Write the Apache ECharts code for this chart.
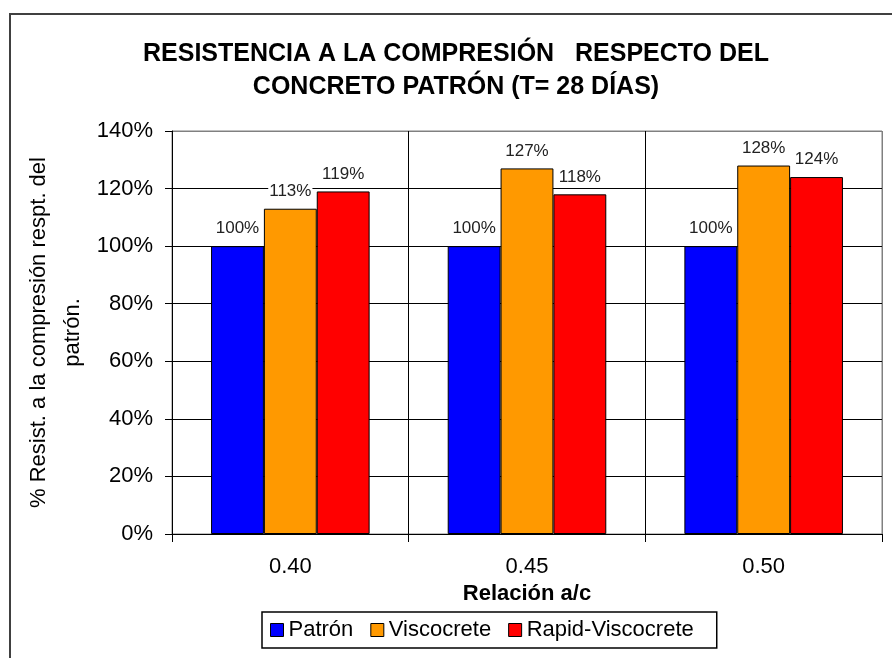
<!DOCTYPE html>
<html>
<head>
<meta charset="utf-8">
<script src="https://cdn.jsdelivr.net/npm/echarts@6/dist/echarts.min.js"></script>
<style>
  html, body { margin: 0; padding: 0; background: #fff; }
  #chart { width: 892px; height: 658px; }
</style>
</head>
<body>
<div id="chart"></div>
<script>
// --- data ---
const categories = ["0.40", "0.45", "0.50"];
const patron = [100, 100, 100];
const viscocrete = [113, 127, 128];
const rapidViscocrete = [119, 118, 124];
const yTicks = { min: 0, max: 140, step: 20 };

const FONT = "'Liberation Sans', Arial, sans-serif";

const chart = echarts.init(document.getElementById("chart"), null, { renderer: "canvas" });

function barSeries(name, data, color) {
  return {
    name,
    type: "bar",
    data,
    barGap: "0%",
    barCategoryGap: "33%",
    itemStyle: { color, borderColor: "#000", borderWidth: 1 },
    label: {
      show: true,
      position: "top",
      distance: 9,
      formatter: "{c}%",
      fontFamily: FONT,
      fontSize: 17,
      color: "#222",
      backgroundColor: "#fff",
      padding: [0, 1],
    },
  };
}

chart.setOption({
  animation: false,
  backgroundColor: "#fff",
  textStyle: { fontFamily: FONT },
  title: {
    text: "RESISTENCIA A LA COMPRESIÓN   RESPECTO DEL\nCONCRETO PATRÓN (T= 28 DÍAS)",
    left: 456,
    top: 38,
    padding: 0,
    textAlign: "center",
    textStyle: { fontFamily: FONT, fontSize: 25, fontWeight: "bold", color: "#000", lineHeight: 33 },
  },
  // outer chart frame (runs off right/bottom like the source)
  graphic: [
    {
      type: "rect",
      shape: { x: 10, y: 14, width: 940, height: 700 },
      style: { fill: null, stroke: "#404040", lineWidth: 2 },
      silent: true,
      z: -1,
    },
  ],
  legend: {
    left: 262,
    top: 612,
    padding: [7, 23, 7, 8],
    itemGap: 17,
    itemWidth: 13,
    itemHeight: 13,
    icon: "rect",
    borderColor: "#000",
    borderWidth: 1.5,
    textStyle: { fontFamily: FONT, fontSize: 22, color: "#000" },
    itemStyle: { borderColor: "#000", borderWidth: 1 },
  },
  grid: {
    left: 172,
    right: 10,
    top: 131,
    bottom: 124,
    show: true,
    borderColor: "#808080",
    borderWidth: 1,
    outerBoundsMode: "none",
  },
  xAxis: {
    type: "category",
    data: categories,
    name: "Relación a/c",
    nameLocation: "middle",
    nameGap: 45,
    nameTextStyle: { fontFamily: FONT, fontSize: 22, fontWeight: "bold", color: "#000" },
    axisLine: { lineStyle: { color: "#000", width: 1 } },
    axisTick: { show: true, length: 8, lineStyle: { color: "#000" } },
    axisLabel: { margin: 22, fontFamily: FONT, fontSize: 22, color: "#000" },
    splitLine: { show: true, lineStyle: { color: ["#000", "#000", "#000", "#808080"], width: 1 } },
  },
  yAxis: {
    type: "value",
    min: yTicks.min,
    max: yTicks.max,
    interval: yTicks.step,
    name: "% Resist. a la compresión respt. del\npatrón.",
    nameLocation: "middle",
    nameGap: 82,
    nameMoveOverlap: false,
    nameTextStyle: { fontFamily: FONT, fontSize: 22, color: "#000", lineHeight: 34 },
    axisLine: { show: true, lineStyle: { color: "#000", width: 1 } },
    axisTick: { show: true, length: 7, lineStyle: { color: "#000" } },
    axisLabel: { margin: 19, fontFamily: FONT, fontSize: 22, color: "#000", formatter: "{value}%" },
    splitLine: {
      show: true,
      lineStyle: { color: ["#000", "#000", "#000", "#000", "#000", "#000", "#000", "#808080"], width: 1 },
    },
  },
  series: [
    barSeries("Patrón", patron, "#0000ff"),
    barSeries("Viscocrete", viscocrete, "#ff9900"),
    barSeries("Rapid-Viscocrete", rapidViscocrete, "#ff0000"),
  ],
});
</script>
</body>
</html>
